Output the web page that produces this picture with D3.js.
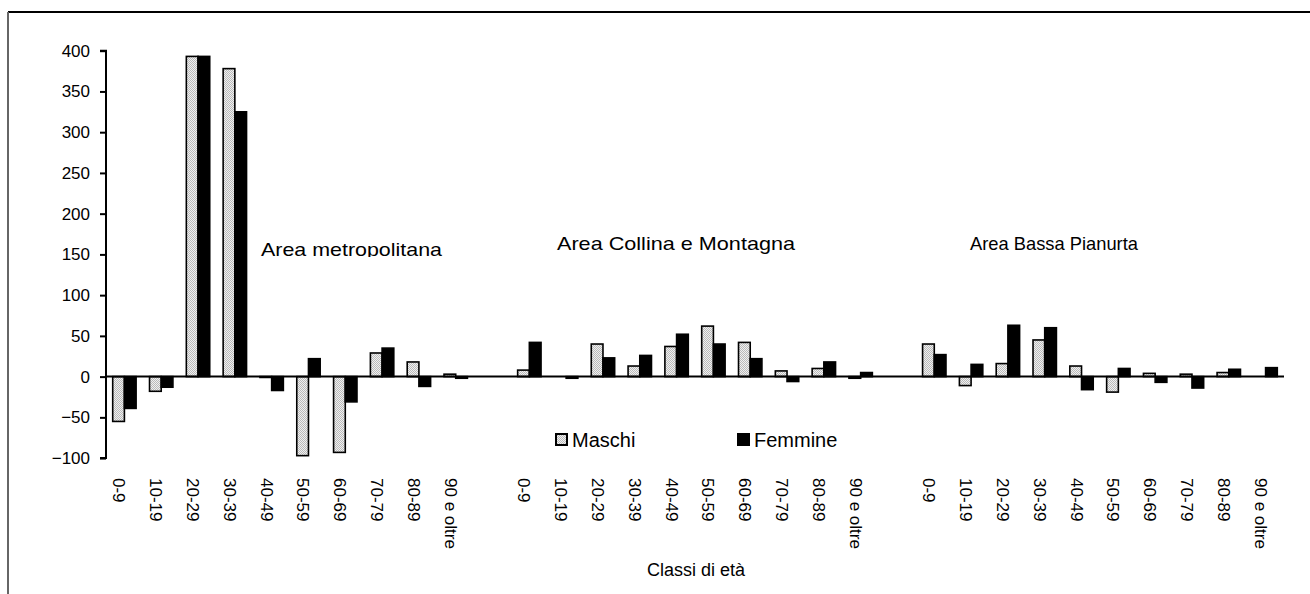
<!DOCTYPE html>
<html>
<head>
<meta charset="utf-8">
<script src="https://cdn.jsdelivr.net/npm/d3@7"></script>
<style>
  html, body { margin: 0; padding: 0; background: #fff; }
  svg { display: block; font-family: Arial, "Liberation Sans", sans-serif; }
</style>
</head>
<body>
<svg id="chart" width="1310" height="594"></svg>
<script>
// ---- data ----
const categories = ["0-9","10-19","20-29","30-39","40-49","50-59","60-69","70-79","80-89","90 e oltre"];
const areas = ["Area metropolitana","Area Collina e Montagna","Area Bassa Pianurta"];
const seriesNames = ["Maschi","Femmine"];
const maschiMetro    = [-55, -18, 393, 378, -1, -97, -93, 29, 18, 3];
const femmineMetro   = [-39, -13, 393, 325, -17, 22, -31, 35, -12, -2];
const maschiCollina  = [8, 0, 40, 13, 37, 62, 42, 7, 10, -2];
const femmineCollina = [42, -2, 23, 26, 52, 40, 22, -6, 18, 5];
const maschiBassa    = [40, -11, 16, 45, 13, -19, 4, 3, 5, 0];
const femmineBassa   = [27, 15, 63, 60, -16, 10, -7, -14, 9, 11];
const yTicks = [-100, -50, 0, 50, 100, 150, 200, 250, 300, 350, 400];
const xTitle = "Classi di età";

const areaSeries = [
  [maschiMetro, femmineMetro],
  [maschiCollina, femmineCollina],
  [maschiBassa, femmineBassa]
];

(function () {
// ---- layout ----
const svg = d3.select("#chart");
const plotLeft = 106, plotRight = 1284, plotTop = 50.7, plotBottom = 458.1;

// slots: 10 categories per area, with one empty slot between areas
const slots = [];
areas.forEach((a, ai) => {
  categories.forEach((c, ci) => slots.push({key: ai + "|" + ci, area: ai, cat: ci}));
  if (ai < areas.length - 1) slots.push({key: "gap" + ai, gap: true});
});

const x = d3.scaleBand().domain(slots.map(s => s.key)).range([plotLeft, plotRight]).padding(0);
const barW = 11.7;
const xs = d3.scaleBand().domain(seriesNames).range([-barW, barW]).padding(0);
const y = d3.scaleLinear().domain([-100, 400]).range([plotBottom, plotTop]);

// pattern for Maschi
const defs = svg.append("defs");
const pat = defs.append("pattern").attr("id", "dots").attr("patternUnits", "userSpaceOnUse")
  .attr("width", 2).attr("height", 2);
pat.append("rect").attr("width", 2).attr("height", 2).attr("fill", "#f0f0f0");
pat.append("rect").attr("x", 0).attr("y", 0).attr("width", 1).attr("height", 1).attr("fill", "#bababa");
pat.append("rect").attr("x", 1).attr("y", 1).attr("width", 1).attr("height", 1).attr("fill", "#bababa");

defs.append("clipPath").attr("id", "clipMetro")
  .append("rect").attr("x", 0).attr("y", 0).attr("width", 1310).attr("height", 257);

// frame
svg.append("line").attr("x1", 8).attr("x2", 1310).attr("y1", 12).attr("y2", 12)
  .attr("stroke", "#000").attr("stroke-width", 2);
svg.append("line").attr("x1", 8).attr("x2", 8).attr("y1", 12).attr("y2", 594)
  .attr("stroke", "#666").attr("stroke-width", 2);

// bars
const barData = [];
slots.filter(s => !s.gap).forEach(s => {
  seriesNames.forEach((sn, si) => {
    barData.push({slot: s.key, series: sn, value: areaSeries[s.area][si][s.cat]});
  });
});

svg.append("g").selectAll("rect").data(barData).join("rect")
  .attr("x", d => x(d.slot) + x.bandwidth() / 2 + xs(d.series))
  .attr("width", xs.bandwidth())
  .attr("y", d => y(Math.max(0, d.value)))
  .attr("height", d => Math.abs(y(d.value) - y(0)))
  .attr("fill", d => d.series === "Maschi" ? "url(#dots)" : "#000")
  .attr("stroke", "#000")
  .attr("stroke-width", 1.6);

// y axis
const yAxis = svg.append("g").attr("transform", `translate(${plotLeft},0)`)
  .call(d3.axisLeft(y).tickValues(yTicks).tickSize(6).tickPadding(10).tickFormat(d3.format("d")));
yAxis.select(".domain").attr("stroke", "#000").attr("stroke-width", 2).attr("d", `M-6,${y(-100)}H0V${y(400)}H-6`);
yAxis.selectAll(".tick line").attr("stroke", "#000").attr("stroke-width", 2);
yAxis.selectAll(".tick text").attr("font-size", 17).attr("fill", "#000")
  .attr("font-family", "Arial, 'Liberation Sans', sans-serif");

// zero line
svg.append("line").attr("x1", plotLeft).attr("x2", plotRight).attr("y1", y(0)).attr("y2", y(0))
  .attr("stroke", "#000").attr("stroke-width", 2);

// category labels (rotated)
svg.append("g").selectAll("text").data(slots.filter(s => !s.gap)).join("text")
  .attr("transform", s => `translate(${x(s.key) + x.bandwidth() / 2 - 11},478) rotate(90)`)
  .attr("font-size", 17)
  .attr("fill", "#000")
  .text(s => categories[s.cat]);

// area labels
const areaPos = [
  {x: 261, y: 256, len: 181},
  {x: 557, y: 250, len: 238},
  {x: 970, y: 250, len: 168}
];
svg.append("g").selectAll("text").data(areas).join("text")
  .attr("x", (d, i) => areaPos[i].x)
  .attr("y", (d, i) => areaPos[i].y)
  .attr("font-size", 19)
  .attr("textLength", (d, i) => areaPos[i].len)
  .attr("lengthAdjust", "spacingAndGlyphs")
  .attr("clip-path", (d, i) => i === 0 ? "url(#clipMetro)" : null)
  .attr("fill", "#000")
  .text(d => d);

// legend
const legend = svg.append("g");
const legPos = [555, 737];
seriesNames.forEach((sn, i) => {
  legend.append("rect").attr("x", legPos[i] + 1).attr("y", 434).attr("width", 11).attr("height", 11)
    .attr("fill", sn === "Maschi" ? "url(#dots)" : "#000")
    .attr("stroke", "#000").attr("stroke-width", 2);
  legend.append("text").attr("x", legPos[i] + 17).attr("y", 447)
    .attr("font-size", 20).attr("fill", "#000").text(sn);
});

// x axis title
svg.append("text").attr("x", 696).attr("y", 576).attr("text-anchor", "middle")
  .attr("font-size", 18).attr("fill", "#000").text(xTitle);
})();
</script>
</body>
</html>
